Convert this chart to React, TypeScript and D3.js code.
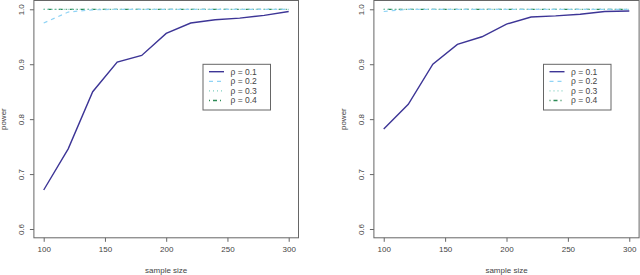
import React, { useEffect, useRef } from 'react'
import * as d3 from 'd3'

const sampleSizes = [100, 120, 140, 160, 180, 200, 220, 240, 260, 280, 300]
const rhoLabels = ['ρ = 0.1', 'ρ = 0.2', 'ρ = 0.3', 'ρ = 0.4']

// left panel
const leftRho1 = [0.671, 0.746, 0.85, 0.904, 0.916, 0.956, 0.975, 0.981, 0.984, 0.989, 0.996]
const leftRho2 = [0.975, 0.995, 0.999, 1, 1, 1, 1, 1, 1, 1, 1]
const leftRho3 = [1, 1, 1, 1, 1, 1, 1, 1, 1, 1, 1]
const leftRho4 = [1, 1, 1, 1, 1, 1, 1, 1, 1, 1, 1]

// right panel
const rightRho1 = [0.782, 0.827, 0.9, 0.936, 0.95, 0.973, 0.986, 0.988, 0.991, 0.996, 0.997]
const rightRho2 = [0.996, 1, 1, 1, 1, 1, 1, 1, 1, 1, 1]
const rightRho3 = [1, 1, 1, 1, 1, 1, 1, 1, 1, 1, 1]
const rightRho4 = [1, 1, 1, 1, 1, 1, 1, 1, 1, 1, 1]

const xTicks = [100, 150, 200, 250, 300]
const yTicks = [0.6, 0.7, 0.8, 0.9, 1.0]

const W = 640
const H = 275

const styles = {
  box: '#666',
  text: '#444',
  font: '"Liberation Sans", Arial, sans-serif',
  series: [
    { color: '#3d3596', dash: null, width: 1.4 },
    { color: '#8fd3f5', dash: '4,4', width: 1.2 },
    { color: '#7fcfc0', dash: '1,3', width: 1.2 },
    { color: '#2e8b57', dash: '1,3,4,3', width: 1.3 },
  ],
}

const panels = [
  { left: 33.9, right: 298.5, series: [leftRho1, leftRho2, leftRho3, leftRho4], legendX: 203, ylabX: 3.5 },
  { left: 373.9, right: 639.1, series: [rightRho1, rightRho2, rightRho3, rightRho4], legendX: 543.5, ylabX: 343.5 },
]

function drawPanel(svg, p) {
  const top = 0.5
  const bottom = 237.8
  const x = d3.scaleLinear().domain([92, 308]).range([p.left, p.right])
  const y = d3.scaleLinear().domain([0.584, 1.016]).range([bottom, top])
  const g = svg.append('g')

  const line = d3
    .line<number>()
    .x((d, i) => x(sampleSizes[i]))
    .y(d => y(d))

  // draw in reverse so rho = 0.1 stays on top
  p.series
    .map((s, i) => ({ s, i }))
    .reverse()
    .forEach(({ s, i }) => {
      const st = styles.series[i]
      g.append('path')
        .attr('d', line(s))
        .attr('fill', 'none')
        .attr('stroke', st.color)
        .attr('stroke-width', st.width)
        .attr('stroke-dasharray', st.dash)
    })

  g.append('rect')
    .attr('x', p.left)
    .attr('y', top)
    .attr('width', p.right - p.left)
    .attr('height', bottom - top)
    .attr('fill', 'none')
    .attr('stroke', styles.box)
    .attr('stroke-width', 1)

  const xAxis = g
    .append('g')
    .attr('transform', `translate(0,${bottom})`)
    .call(d3.axisBottom(x).tickValues(xTicks).tickSize(4).tickPadding(5).tickFormat(d3.format('d')))
  xAxis.select('.domain').remove()

  const yAxis = g
    .append('g')
    .attr('transform', `translate(${p.left},0)`)
    .call(d3.axisLeft(y).tickValues(yTicks).tickSize(4).tickFormat(d3.format('.1f')))
  yAxis.select('.domain').remove()
  // R style: y labels rotated, parallel to the axis
  yAxis
    .selectAll('.tick text')
    .attr('x', null)
    .attr('y', null)
    .attr('dy', null)
    .attr('text-anchor', 'middle')
    .attr('dominant-baseline', 'central')
    .attr('transform', 'translate(-12.5,0) rotate(-90)')

  g.selectAll('.tick line').attr('stroke', styles.box)
  g.selectAll('.tick text')
    .attr('fill', styles.text)
    .style('font-family', styles.font)
    .style('font-size', '8px')

  g.append('text')
    .text('sample size')
    .attr('x', (x(100) + x(300)) / 2)
    .attr('y', 270)
    .attr('text-anchor', 'middle')
    .attr('dominant-baseline', 'central')
    .attr('fill', styles.text)
    .style('font-family', styles.font)
    .style('font-size', '8px')

  g.append('text')
    .text('power')
    .attr('transform', `translate(${p.ylabX},${y(0.8)}) rotate(-90)`)
    .attr('text-anchor', 'middle')
    .attr('dominant-baseline', 'central')
    .attr('fill', styles.text)
    .style('font-family', styles.font)
    .style('font-size', '8px')

  // legend
  const lg = g.append('g').attr('transform', `translate(${p.legendX},64.3)`)
  lg.append('rect')
    .attr('width', 67.5)
    .attr('height', 45.7)
    .attr('fill', 'white')
    .attr('stroke', styles.box)
    .attr('stroke-width', 1)
  rhoLabels.forEach((lab, i) => {
    const st = styles.series[i]
    const ry = 7.4 + i * 9.6
    lg.append('line')
      .attr('x1', 6)
      .attr('x2', 21)
      .attr('y1', ry)
      .attr('y2', ry)
      .attr('stroke', st.color)
      .attr('stroke-width', st.width)
      .attr('stroke-dasharray', st.dash)
    lg.append('text')
      .text(lab)
      .attr('x', 27.5)
      .attr('y', ry)
      .attr('dominant-baseline', 'central')
      .attr('fill', styles.text)
      .style('font-family', styles.font)
      .style('font-size', '8.5px')
  })
}

export default function App() {
  const ref = useRef<SVGSVGElement>(null)

  useEffect(() => {
    const svg = d3.select(ref.current)
    svg.selectAll('*').remove()
    panels.forEach(p => drawPanel(svg, p))
  }, [])

  return (
    <svg
      ref={ref}
      width={W}
      height={H}
      style={{ position: 'absolute', left: 0, top: 0, background: 'white' }}
    />
  )
}
